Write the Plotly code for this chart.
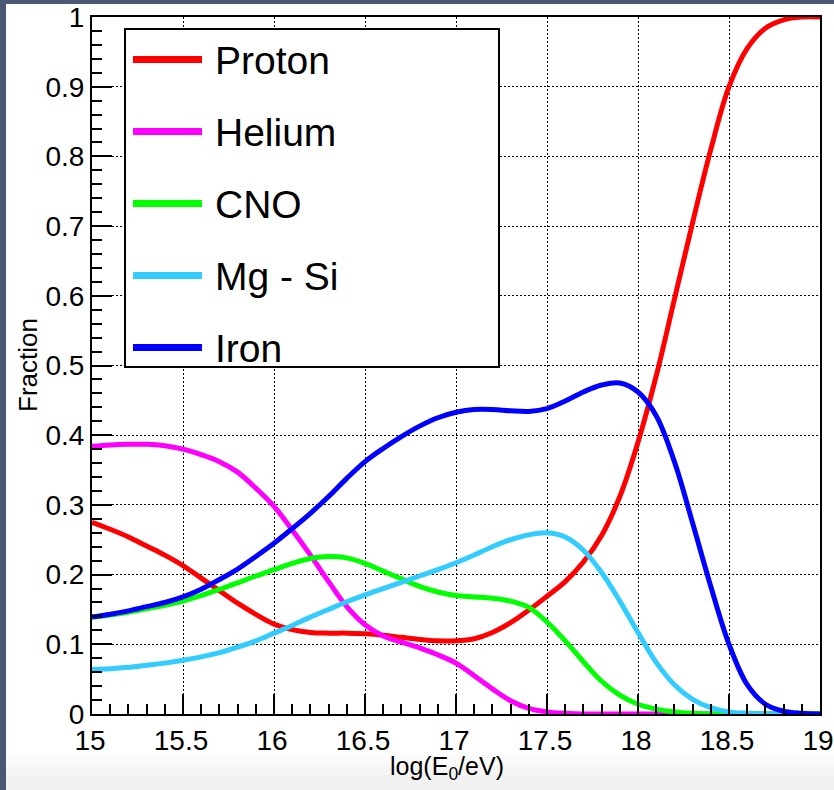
import plotly.graph_objects as go

# Composition fractions vs. primary energy log10(E0/eV), sampled every 0.1
log_e = [15.0, 15.1, 15.2, 15.3, 15.4, 15.5, 15.6, 15.7, 15.8, 15.9,
         16.0, 16.1, 16.2, 16.3, 16.4, 16.5, 16.6, 16.7, 16.8, 16.9,
         17.0, 17.1, 17.2, 17.3, 17.4, 17.5, 17.6, 17.7, 17.8, 17.9,
         18.0, 18.1, 18.2, 18.3, 18.4, 18.5, 18.6, 18.7, 18.8, 18.9, 19.0]

proton = [0.275, 0.265, 0.254, 0.241, 0.228, 0.213, 0.195, 0.177, 0.159, 0.143,
          0.129, 0.121, 0.117, 0.116, 0.116, 0.115, 0.113, 0.110, 0.107, 0.105,
          0.105, 0.108, 0.117, 0.131, 0.149, 0.169, 0.190, 0.218, 0.256, 0.312,
          0.390, 0.485, 0.595, 0.705, 0.810, 0.900, 0.955, 0.984, 0.996, 1.000, 1.000]

helium = [0.384, 0.386, 0.387, 0.387, 0.385, 0.380, 0.372, 0.362, 0.347, 0.324,
          0.298, 0.264, 0.228, 0.190, 0.154, 0.128, 0.112, 0.103, 0.095, 0.085,
          0.073, 0.055, 0.036, 0.019, 0.008, 0.003, 0.001, 0.0, 0.0, 0.0,
          0.0, 0.0, 0.0, 0.0, 0.0, 0.0, 0.0, 0.0, 0.0, 0.0, 0.0]

cno = [0.139, 0.142, 0.146, 0.151, 0.156, 0.162, 0.170, 0.179, 0.188, 0.198,
       0.207, 0.216, 0.223, 0.226, 0.224, 0.216, 0.205, 0.194, 0.183, 0.175,
       0.170, 0.168, 0.166, 0.162, 0.153, 0.132, 0.105, 0.075, 0.047, 0.027,
       0.014, 0.007, 0.003, 0.001, 0.0, 0.0, 0.0, 0.0, 0.0, 0.0, 0.0]

mg_si = [0.064, 0.065, 0.067, 0.070, 0.073, 0.077, 0.082, 0.088, 0.096, 0.105,
         0.116, 0.127, 0.139, 0.150, 0.161, 0.171, 0.180, 0.189, 0.198, 0.207,
         0.217, 0.228, 0.240, 0.250, 0.257, 0.260, 0.254, 0.235, 0.203, 0.162,
         0.117, 0.074, 0.042, 0.021, 0.009, 0.003, 0.001, 0.0, 0.0, 0.0, 0.0]

iron = [0.139, 0.143, 0.148, 0.154, 0.160, 0.168, 0.179, 0.193, 0.208, 0.226,
        0.245, 0.266, 0.288, 0.312, 0.338, 0.362, 0.381, 0.398, 0.413, 0.425,
        0.433, 0.437, 0.437, 0.435, 0.434, 0.438, 0.449, 0.462, 0.472, 0.475,
        0.462, 0.428, 0.362, 0.274, 0.183, 0.100, 0.042, 0.014, 0.004, 0.001, 0.0]

series_names = ["Proton", "Helium", "CNO", "Mg - Si", "Iron"]
series_colors = ["#ff0000", "#ff00ff", "#00ff00", "#33ccff", "#0000ff"]
series_values = [proton, helium, cno, mg_si, iron]

W, H = 834, 790
L, R, T, B = 92, 14, 17, 76
PW, PH = W - L - R, H - T - B
FONT = "Liberation Sans, Arial, Helvetica, sans-serif"


def paper_x(px):
    return (px - L) / PW


def paper_y(py):
    return (H - B - py) / PH


fig = go.Figure()
for name, color, ys in zip(series_names, series_colors, series_values):
    fig.add_trace(go.Scatter(
        x=log_e, y=ys, mode="lines", name=name,
        line=dict(color=color, width=5, shape="spline", smoothing=1.0),
        showlegend=False,
    ))

shapes = []
# slide frame around the canvas
frame_col = "#4a5873"
shapes.append(dict(type="rect", xref="paper", yref="paper", layer="below",
                   x0=paper_x(0), x1=paper_x(6), y0=paper_y(H), y1=paper_y(0),
                   fillcolor=frame_col, line=dict(width=0)))
shapes.append(dict(type="rect", xref="paper", yref="paper", layer="below",
                   x0=paper_x(0), x1=paper_x(W), y0=paper_y(4), y1=paper_y(0),
                   fillcolor=frame_col, line=dict(width=0)))
for y0, y1, c in [(755, 765, "#fbfbfb"), (765, 775, "#f6f6f6"), (775, H, "#f1f1f1")]:
    shapes.append(dict(type="rect", xref="paper", yref="paper", layer="below",
                       x0=paper_x(6), x1=paper_x(W), y0=paper_y(y1), y1=paper_y(y0),
                       fillcolor=c, line=dict(width=0)))

# legend box
shapes.append(dict(type="rect", xref="paper", yref="paper", layer="above",
                   x0=paper_x(125), x1=paper_x(499), y0=paper_y(367), y1=paper_y(29),
                   fillcolor="white", line=dict(color="black", width=2)))
annotations = []
row0, row_step = 59.5, 72
for i, (name, color) in enumerate(zip(series_names, series_colors)):
    cy = row0 + i * row_step
    shapes.append(dict(type="line", xref="paper", yref="paper", layer="above",
                       x0=paper_x(133), x1=paper_x(202), y0=paper_y(cy), y1=paper_y(cy),
                       line=dict(color=color, width=7)))
    annotations.append(dict(xref="paper", yref="paper", x=paper_x(213), y=paper_y(cy + 1),
                            xanchor="left", yanchor="middle", showarrow=False,
                            text=name, font=dict(family=FONT, size=39, color="black")))

annotations.append(dict(xref="paper", yref="paper", x=paper_x(447), y=paper_y(768),
                        xanchor="center", yanchor="middle", showarrow=False,
                        text="log(E<sub>0</sub>/eV)",
                        font=dict(family=FONT, size=25, color="black")))
annotations.append(dict(xref="paper", yref="paper", x=paper_x(28), y=paper_y(365),
                        xanchor="center", yanchor="middle", showarrow=False, textangle=-90,
                        text="Fraction", font=dict(family=FONT, size=26, color="black")))

axis_common = dict(
    showline=True, linecolor="black", linewidth=2, mirror=True,
    ticks="inside", ticklen=20, tickwidth=1.5, tickcolor="black",
    showgrid=True, gridcolor="black", gridwidth=1.3, griddash="2px,2px",
    zeroline=False, automargin=False, ticklabeloverflow="allow",
    tickfont=dict(family=FONT, size=28, color="black"),
)
fig.update_xaxes(range=[15, 19], tick0=15, dtick=0.5, ticklabelshift=-2,
                 minor=dict(dtick=0.1, ticks="inside", ticklen=10, tickcolor="black",
                            tickwidth=1.5, showgrid=False),
                 **axis_common)
fig.update_yaxes(range=[0, 1], tick0=0, dtick=0.1,
                 minor=dict(dtick=0.02, ticks="inside", ticklen=10, tickcolor="black",
                            tickwidth=1.5, showgrid=False),
                 **axis_common)

fig.update_layout(
    width=W, height=H,
    margin=dict(l=L, r=R, t=T, b=B),
    paper_bgcolor="white", plot_bgcolor="white",
    shapes=shapes, annotations=annotations,
    showlegend=False,
)

fig.write_html("out.html")
